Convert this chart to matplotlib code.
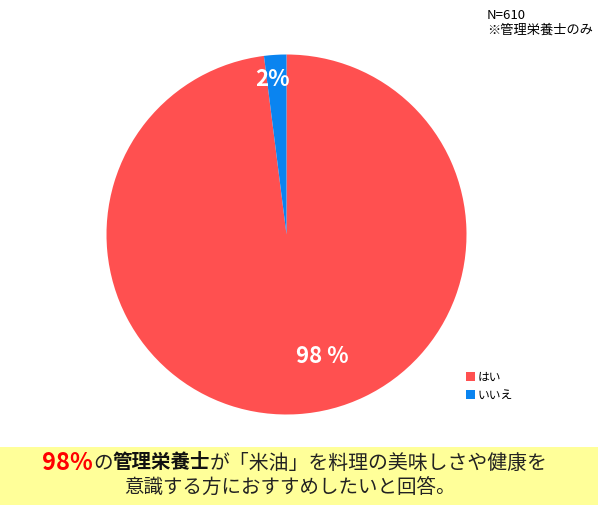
import matplotlib
matplotlib.use("Agg")
import matplotlib.pyplot as plt
from matplotlib.patches import Rectangle

plt.rcParams['font.family'] = ['Noto Sans CJK JP', 'DejaVu Sans']

# survey answers (share of respondents, %)
answers = ["はい", "いいえ"]
shares = [98, 2]
slice_labels = ["98 %", "2%"]
colors = ["#FF5050", "#0A84F0"]

sample_note = ["N=610", "※管理栄養士のみ"]

W, H = 598, 505
fig = plt.figure(figsize=(W / 100, H / 100), dpi=100)

# pie axes: centre (286.5, 234.5) px, radius 180 px
cx, cy, r = 286.5, 234.5, 180
ax = fig.add_axes([(cx - r) / W, (H - cy - r) / H, 2 * r / W, 2 * r / H])
wedges, _ = ax.pie(shares, colors=colors, startangle=90, counterclock=False,
                   radius=1.0, wedgeprops=dict(linewidth=0))
ax.set_xlim(-1, 1)
ax.set_ylim(-1, 1)
ax.set_aspect("equal")
ax.axis("off")

# value labels inside the slices
label_pos = [(0.2, -0.68), (-0.08, 0.86)]
for lab, (x, y) in zip(slice_labels, label_pos):
    ax.text(x, y, lab, ha="center", va="center", color="white",
            fontsize=16, fontweight="bold")

fig.legend(wedges, answers, loc="upper left",
           bbox_to_anchor=(460 / W, 1 - 365 / H), frameon=False,
           fontsize=8.5, handlelength=0.75, handleheight=0.75,
           handletextpad=0.25, labelspacing=0.4, borderpad=0)

fig.text(487 / W, 1 - 9 / H, sample_note[0], fontsize=9.5, va="top")
fig.text(487 / W, 1 - 24 / H, sample_note[1], fontsize=9.5, va="top")

# summary band at the bottom
fig.patches.append(Rectangle((0, 0), 1, 58 / H, transform=fig.transFigure,
                             facecolor="#FFFF99", edgecolor="none", zorder=0))

line1 = [("98%", "#FF0000", "bold", 17),
         ("の", "#222222", "normal", 14),
         ("管理栄養士", "#111111", "bold", 14),
         ("が「米油」を料理の美味しさや健康を", "#222222", "normal", 14.3)]
line2 = "意識する方におすすめしたいと回答。"

renderer = fig.canvas.get_renderer()
pieces = []
for s, c, w, fs in line1:
    t = fig.text(0, 1 - 463 / H, s, color=c, fontweight=w, fontsize=fs,
                 va="center", ha="left")
    pieces.append(t)
widths = [t.get_window_extent(renderer).width for t in pieces]
x = 295 - sum(widths) / 2
for t, wd in zip(pieces, widths):
    t.set_x(x / W)
    x += wd

fig.text(290 / W, 1 - 488 / H, line2, color="#222222", fontsize=14,
         ha="center", va="center")

fig.savefig("out.png", dpi=100, facecolor="white")
